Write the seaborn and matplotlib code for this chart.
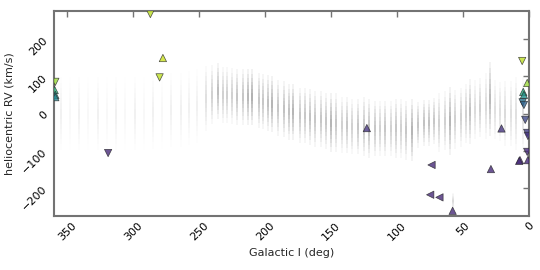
import numpy as np
import pandas as pd
import matplotlib
matplotlib.use('Agg')
import matplotlib.pyplot as plt
import seaborn as sns

sns.set_style('white')
plt.rcParams['font.family'] = ['DejaVu Sans']

# background survey fields: galactic l, mean RV, RV spread, darkness
field_l = [355, 348, 341, 334, 327, 320, 313, 306, 299, 292,
           285, 278, 271, 264, 258, 252,
           245, 240, 236, 232, 229, 225, 221, 217, 213, 210, 205, 202, 198, 195,
           190, 186, 182, 179, 174, 170, 166, 162, 158, 154, 150, 146, 142, 138,
           134, 130, 125, 121, 117, 113, 109, 105, 101, 97, 93, 89, 84, 80, 76,
           72, 68, 64, 60, 56, 52, 48, 45, 41, 37, 33, 30, 26, 22, 18, 14, 10, 5, 58]
field_rv = [0, 0, 0, 0, 0, 0, 0, 0, 0, 0,
            5, 5, 10, 10, 15, 20,
            40, 50, 60, 50, 50, 48, 45, 45, 45, 45, 35, 32, 28, 25,
            15, 12, 5, 5, -5, -5, -10, -15, -15, -20, -25, -25, -30, -30,
            -35, -35, -35, -40, -40, -40, -40, -40, -40, -40, -45, -45, -30, -25, -25,
            -20, -25, -20, -20, -15, -10, 0, 5, 10, 15, 20, 40, 10, 5, 0, 0, 0, 0, -235]
field_sd = [45, 45, 45, 45, 45, 45, 45, 45, 45, 45,
            45, 45, 45, 45, 45, 45,
            40, 36, 34, 34, 34, 34, 34, 34, 34, 34, 34, 34, 34, 34,
            34, 34, 34, 34, 34, 34, 34, 34, 34, 34, 36, 36, 34, 34,
            34, 34, 36, 36, 34, 34, 34, 34, 36, 36, 36, 38, 28, 28, 28,
            28, 36, 36, 42, 36, 36, 36, 40, 36, 36, 40, 45, 36, 36, 40, 40, 45, 45, 10]
field_dark = [0.06, 0.05, 0.06, 0.05, 0.06, 0.05, 0.06, 0.05, 0.06, 0.05,
              0.06, 0.05, 0.06, 0.06, 0.08, 0.1,
              0.25, 0.35, 0.55, 0.35, 0.4, 0.4, 0.45, 0.45, 0.6, 0.7, 0.45, 0.45, 0.5, 0.65,
              0.45, 0.5, 0.5, 0.65, 0.45, 0.45, 0.5, 0.45, 0.45, 0.45, 0.65, 0.45, 0.4, 0.45,
              0.4, 0.45, 0.45, 0.5, 0.45, 0.4, 0.45, 0.4, 0.45, 0.4, 0.45, 0.65, 0.45, 0.5, 0.5,
              0.45, 0.35, 0.4, 0.65, 0.35, 0.4, 0.35, 0.5, 0.3, 0.35, 0.3, 0.6, 0.25, 0.25, 0.3, 0.25, 0.25, 0.2, 0.3]

# highlighted stars
star_l = [287, 277.5, 280, 319, 359, 359.5, 359, 359,
          5.3, 1.5, 4.5, 4.0, 5.0, 4.0, 3.0, 1.5, 1.5, 1.0, 7.0, 1.0,
          123, 21, 7.6, 29, 74, 75, 68, 58]
star_rv = [267, 149, 97, -106, 85, 63, 50, 44,
           141, 82, 58, 50, 30, 23, -17, -52, -103, -60, -125, -125,
           -39, -40, -127, -149, -138, -218, -225, -261]
star_value = [0.9, 0.92, 0.9, 0.12, 0.85, 0.65, 0.5, 0.45,
              0.9, 0.85, 0.62, 0.5, 0.38, 0.32, 0.22, 0.18, 0.12, 0.15, 0.12, 0.12,
              0.15, 0.15, 0.12, 0.12, 0.12, 0.12, 0.12, 0.12]
star_kind = ['down', 'up', 'down', 'down', 'down', 'up', 'up', 'up',
             'down', 'up', 'up', 'up', 'down', 'down', 'down', 'down', 'down', 'down', 'up', 'up',
             'up', 'up', 'up', 'up', 'left', 'left', 'left', 'up']

fig = plt.figure(figsize=(5.4, 2.7), dpi=100)
ax = fig.add_axes([0.1, 0.2, 0.88, 0.759])

levels = [0.3, 0.6, 0.9, 1.2, 1.5, 1.8, 2.2]
for l, c, s, w in zip(field_l, field_rv, field_sd, field_dark):
    for k in levels:
        ax.vlines(l, c - k * s, c + k * s, colors='0.15', lw=1.1, alpha=w * 0.11)

stars = pd.DataFrame({'l': star_l, 'rv': star_rv, 'value': star_value, 'kind': star_kind})
sns.scatterplot(data=stars, x='l', y='rv', hue='value', palette='viridis', hue_norm=(0, 1),
                style='kind', markers={'up': '^', 'down': 'v', 'left': '<'}, alpha=0.8,
                s=28, edgecolor='0.15', linewidth=0.5, legend=False, ax=ax, zorder=3)

ax.set_xlim(360, 0)
ax.set_ylim(-275, 275)
ax.set_xticks([350, 300, 250, 200, 150, 100, 50, 0])
ax.set_yticks([-200, -100, 0, 100, 200])
ax.tick_params(direction='in', top=True, right=True, color='0.45', labelcolor='black',
               length=4, width=1, labelsize=8)
ax.tick_params(axis='both', labelrotation=45)
for sp in ax.spines.values():
    sp.set_color('0.45')
    sp.set_linewidth(1.5)
ax.set_xlabel('Galactic l (deg)', fontsize=8)
ax.set_ylabel('heliocentric RV (km/s)', fontsize=8)

fig.savefig('out.png', dpi=100)
